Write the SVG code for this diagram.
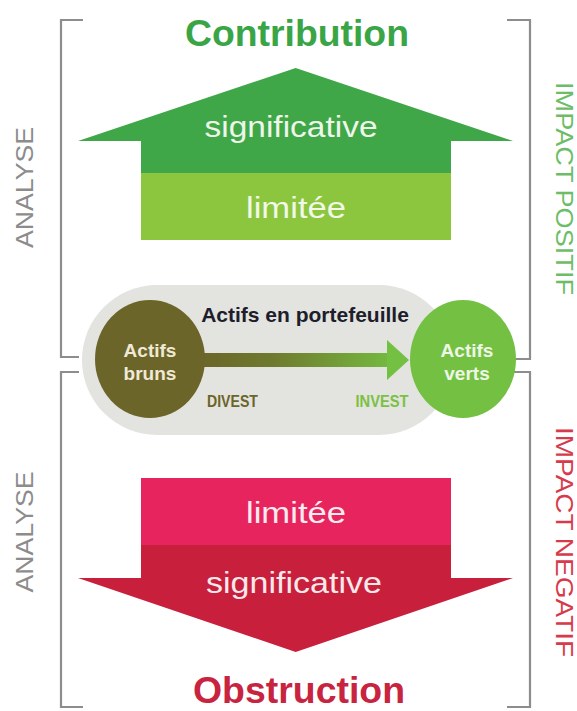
<svg xmlns="http://www.w3.org/2000/svg" width="577" height="711" viewBox="0 0 577 711">
<style>
.br{fill:none;stroke:#8d8d8d;stroke-width:2.2}
.side{font-family:"Liberation Sans",Arial,sans-serif;font-size:23px}
.big{font-family:"Liberation Sans",Arial,sans-serif;font-size:37px;font-weight:bold;text-anchor:middle}
.lab{font-family:"Liberation Sans",Arial,sans-serif;font-size:30px;text-anchor:middle}
.act{font-family:"Liberation Sans",Arial,sans-serif;font-weight:bold;text-anchor:middle}
</style>
<defs>
<linearGradient id="gr" x1="200" y1="0" x2="408" y2="0" gradientUnits="userSpaceOnUse">
<stop offset="0" stop-color="#6b6529"/>
<stop offset="0.35" stop-color="#6f7a2e"/>
<stop offset="1" stop-color="#76c244"/>
</linearGradient>
</defs>
<rect width="577" height="711" fill="#ffffff"/>
<g id="brackets">
<path class="br" d="M83 20H61V357H79"/>
<path class="br" d="M507 20H530V359H508"/>
<path class="br" d="M79 372H61V707H83"/>
<path class="br" d="M508 372H530V707H507"/>
</g>
<g id="side-labels">
<text class="side" fill="#8c8c8c" text-anchor="middle" textLength="121" lengthAdjust="spacingAndGlyphs" transform="translate(33,187.5) rotate(-90)">ANALYSE</text>
<text class="side" fill="#8c8c8c" text-anchor="middle" textLength="121" lengthAdjust="spacingAndGlyphs" transform="translate(33,532) rotate(-90)">ANALYSE</text>
<text class="side" fill="#6dbd68" text-anchor="middle" textLength="213" lengthAdjust="spacingAndGlyphs" transform="translate(556,188.5) rotate(90)">IMPACT POSITIF</text>
<text class="side" fill="#d63a4b" text-anchor="middle" textLength="230" lengthAdjust="spacingAndGlyphs" transform="translate(556,542) rotate(90)">IMPACT NEGATIF</text>
</g>
<g id="contribution">
<text class="big" x="297" y="46" fill="#3aa547" textLength="224" lengthAdjust="spacingAndGlyphs">Contribution</text>
</g>
<g id="up-arrow">
<polygon points="295.7,68 513,141 451,141 451,174 141,174 141,141 78,141" fill="#3fa748"/>
<rect x="141" y="173" width="310" height="67" fill="#8cc63f"/>
<text class="lab" x="291" y="137" fill="#eef6ea" textLength="173" lengthAdjust="spacingAndGlyphs">significative</text>
<text class="lab" x="296" y="218" fill="#f1f8e8" textLength="100" lengthAdjust="spacingAndGlyphs">limitée</text>
</g>
<g id="portfolio">
<rect x="82" y="285" width="372" height="150" rx="75" ry="75" fill="#e3e3df"/>
<text class="act" x="305" y="322" font-size="21" fill="#1d1d2b">Actifs en portefeuille</text>
</g>
<g id="connectors">
<rect x="200" y="353" width="188" height="14" fill="url(#gr)"/>
<polygon points="387,340 409,360 387,380" fill="#74c043"/>
</g>
<g id="actifs-bruns">
<ellipse cx="150" cy="359" rx="55" ry="59" fill="#6b6529"/>
<text class="act" x="150" y="357" font-size="19" fill="#efe9d6">Actifs</text>
<text class="act" x="150" y="380" font-size="19" fill="#efe9d6">bruns</text>
<text class="act" x="232.5" y="407" font-size="16.5" fill="#6b6529" textLength="51" lengthAdjust="spacingAndGlyphs">DIVEST</text>
</g>
<g id="actifs-verts">
<ellipse cx="463" cy="359" rx="53" ry="59" fill="#74c043"/>
<text class="act" x="467" y="357" font-size="19" fill="#eef6e6">Actifs</text>
<text class="act" x="467" y="380" font-size="19" fill="#eef6e6">verts</text>
<text class="act" x="382" y="407" font-size="16.5" fill="#7ac143" textLength="53" lengthAdjust="spacingAndGlyphs">INVEST</text>
</g>
<g id="down-arrow">
<rect x="141" y="478" width="310" height="68" fill="#e8245f"/>
<polygon points="141,545 451,545 451,578 513,578 295.7,652 78,578 141,578" fill="#c71f3c"/>
<text class="lab" x="296" y="523" fill="#fdecef" textLength="100" lengthAdjust="spacingAndGlyphs">limitée</text>
<text class="lab" x="294" y="593" fill="#fbe8ea" textLength="176" lengthAdjust="spacingAndGlyphs">significative</text>
</g>
<g id="obstruction">
<text class="big" x="299" y="703" fill="#c9243f" textLength="212" lengthAdjust="spacingAndGlyphs">Obstruction</text>
</g>
</svg>
